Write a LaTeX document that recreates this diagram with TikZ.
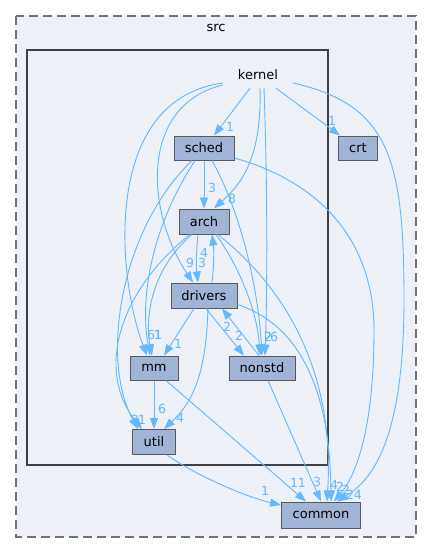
\documentclass[tikz,border=0pt]{standalone}
\usepackage{fontspec}
\setmainfont{DejaVu Sans}
\usetikzlibrary{arrows.meta}
\definecolor{clusterbg}{HTML}{EDF0F7}
\definecolor{dirfill}{HTML}{A2B4D6}
\definecolor{depblue}{HTML}{63B8FF}
\tikzset{
  cluster/.style={fill=clusterbg},
  dirbox/.style={
    draw=black!65, line width=1pt,
    fill=dirfill, minimum height=24pt, inner sep=0pt,
    font=\fontsize{13pt}{15pt}\selectfont
  },
  dep/.style={draw=depblue, line width=0.9pt, -{Triangle[length=11pt,width=8pt]}},
  cnt/.style={text=depblue, inner sep=0pt, font=\fontsize{12.5pt}{14pt}\selectfont},
}

\begin{document}
\begin{tikzpicture}[x=1pt, y=-1pt]
  \useasboundingbox (0,0) rectangle (432,555);

  % directory clusters
  \draw[cluster, draw=black!55, dash pattern=on 9pt off 5pt, line width=1.6pt]
    (16,16) rectangle (416,537);
  \node[font=\fontsize{13pt}{15pt}\selectfont] (src) at (216,28) {src};
  \draw[cluster, draw=black!75, line width=2.4pt] (27,50) rectangle (328,465);

  \node[minimum width=70pt, minimum height=26pt,
        font=\fontsize{13pt}{15pt}\selectfont] (kernel) at (258,75) {kernel};
  \node[dirbox, minimum width=60pt] (sched)   at (204,148)   {sched};
  \node[dirbox, minimum width=39pt] (crt)     at (358,148)   {crt};
  \node[dirbox, minimum width=50pt, minimum height=25pt] (arch)    at (204,221.5) {arch};
  \node[dirbox, minimum width=66pt, minimum height=25pt] (drivers) at (204,295.5) {drivers};
  \node[dirbox, minimum width=48pt] (mm)      at (154,368)   {mm};
  \node[dirbox, minimum width=66pt] (nonstd)  at (262,368)   {nonstd};
  \node[dirbox, minimum width=43pt, minimum height=25pt] (util)    at (154,442)   {util};
  \node[dirbox, minimum width=79pt, minimum height=26pt] (common)  at (321,515)   {common};

  % kernel
  \draw[dep] ([xshift=-8pt]kernel.south) -- ([xshift=10pt]sched.north)
    node[cnt, pos=1, xshift=16pt, yshift=9pt] {1};
  \draw[dep] ([xshift=18pt]kernel.south) -- ([xshift=-18pt]crt.north)
    node[cnt, pos=1, xshift=-8pt, yshift=15pt] {1};
  \draw[dep] ([xshift=2pt]kernel.south) .. controls (262,160) and (240,185) .. ([xshift=10pt]arch.north)
    node[cnt, pos=1, xshift=18pt, yshift=10pt] {8};
  \draw[dep] ([xshift=6pt]kernel.south) .. controls (268,200) and (267,300) .. ([xshift=3pt]nonstd.north)
    node[cnt, pos=1, xshift=9pt, yshift=19pt] {6};
  \draw[dep] ([yshift=-8pt]kernel.east) .. controls (390,105) and (404,160) .. (404,300)
    .. controls (404,440) and (372,480) .. ([xshift=16pt]common.north)
    node[cnt, pos=1, xshift=17pt, yshift=7pt] {24};
  \draw[dep] ([yshift=-10pt]kernel.west) .. controls (140,105) and (145,210) .. ([xshift=-11pt]drivers.north)
    node[cnt, pos=1, xshift=-3pt, yshift=20pt] {9};
  \draw[dep] ([yshift=-8pt]kernel.west) .. controls (100,100) and (118,280) .. ([xshift=-7pt]mm.north)
    node[cnt, pos=1, xshift=4pt, yshift=21pt] {6};

  % sched
  \draw[dep] (sched) -- (arch)
    node[cnt, pos=1, xshift=8pt, yshift=21pt] {3};
  \draw[dep] ([xshift=8pt]sched.south) .. controls (245,220) and (259,300) .. (nonstd.north)
    node[cnt, pos=1, xshift=6pt, yshift=19pt] {2};
  \draw[dep] ([yshift=-10pt]sched.east) .. controls (330,185) and (374,250) .. (374,330)
    .. controls (374,440) and (352,480) .. ([xshift=13pt]common.north)
    node[cnt, pos=1, xshift=12pt, yshift=12pt] {2};
  \draw[dep] ([xshift=-12pt]sched.south) .. controls (120,230) and (100,360) .. ([xshift=-16pt]util.north)
    node[cnt, pos=1, xshift=-3pt, yshift=9pt] {3};
  \draw[dep] ([xshift=-9pt]sched.south) .. controls (150,230) and (140,300) .. ([xshift=-4pt]mm.north)
    node[cnt, pos=1, xshift=8pt, yshift=21pt] {1};

  % arch
  \draw[dep] ([xshift=-6pt]arch.south) .. controls (196,255) and (196,265) .. ([xshift=-6pt]drivers.north)
    node[cnt, pos=1, xshift=4pt, yshift=20pt] {3};
  \draw[dep] ([xshift=-12pt]arch.south) .. controls (150,270) and (145,320) .. ([xshift=-2pt]mm.north)
    node[cnt, pos=1, xshift=6pt, yshift=21pt] {1};
  \draw[dep] ([xshift=-14pt]arch.south) .. controls (120,290) and (95,370) .. ([xshift=-12pt]util.north)
    node[cnt, pos=1, xshift=0pt, yshift=9pt] {1};
  \draw[dep] ([xshift=12pt]arch.south) .. controls (245,275) and (258,320) .. ([xshift=-2pt]nonstd.north)
    node[cnt, pos=1, xshift=8pt, yshift=19pt] {2};
  \draw[dep] ([xshift=14pt]arch.south) .. controls (300,300) and (334,390) .. ([xshift=6pt]common.north)
    node[cnt, pos=1, xshift=7pt, yshift=17pt] {4};

  % drivers
  \draw[dep] ([xshift=8pt]drivers.north) .. controls (214,265) and (214,250) .. ([xshift=8pt]arch.south)
    node[cnt, pos=1, xshift=-8pt, yshift=-18pt] {4};
  \draw[dep] ([xshift=-10pt]drivers.south) -- ([xshift=10pt]mm.north)
    node[cnt, pos=1, xshift=14pt, yshift=12pt] {1};
  \draw[dep] ([xshift=2pt]drivers.south) -- ([xshift=-18pt]nonstd.north)
    node[cnt, pos=1, xshift=-5pt, yshift=20pt] {2};
  \draw[dep] ([xshift=4pt]drivers.south) .. controls (206,370) and (195,400) .. ([xshift=10pt]util.north)
    node[cnt, pos=1, xshift=16pt, yshift=11pt] {4};
  \draw[dep] ([yshift=-9pt]drivers.east) .. controls (300,325) and (330,390) .. ([xshift=10pt]common.north)
    node[cnt, pos=1, xshift=9pt, yshift=15pt] {2};

  % mm, nonstd, util
  \draw[dep] (mm) -- (util)
    node[cnt, pos=1, xshift=8pt, yshift=20pt] {6};
  \draw[dep] ([xshift=12pt]mm.south) -- ([xshift=-15pt]common.north)
    node[cnt, pos=1, xshift=-8pt, yshift=19pt] {11};
  \draw[dep] ([xshift=-3pt]nonstd.north) -- ([xshift=18pt]drivers.south)
    node[cnt, pos=1, xshift=5pt, yshift=-18pt] {2};
  \draw[dep] ([xshift=6pt]nonstd.south) -- (common.north)
    node[cnt, pos=1, xshift=-4pt, yshift=20pt] {3};
  \draw[dep] ([xshift=13pt]util.south) .. controls (200,478) and (250,498) .. ([yshift=10pt]common.west)
    node[cnt, pos=1, xshift=-16pt, yshift=14pt] {1};
\end{tikzpicture}
\end{document}
